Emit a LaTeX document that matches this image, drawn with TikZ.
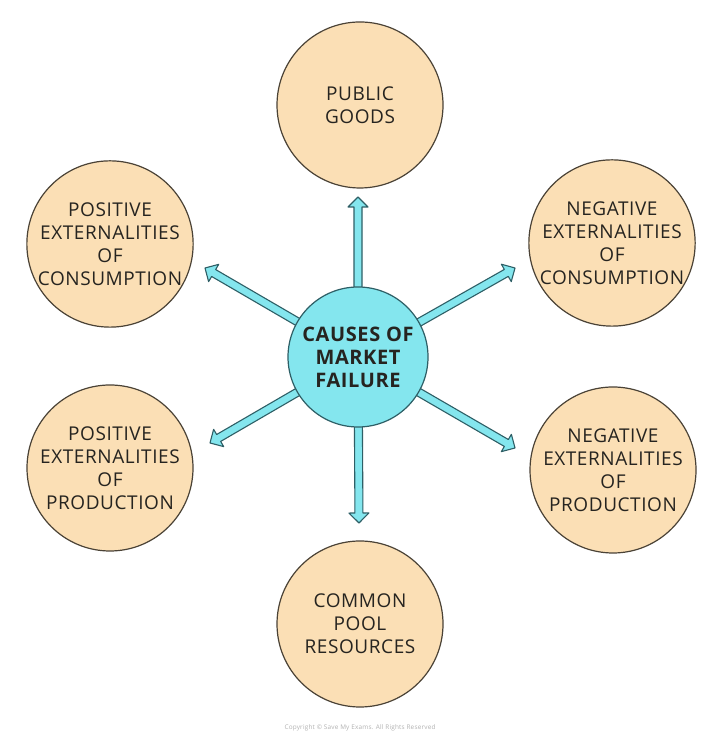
\documentclass[tikz,border=0pt]{standalone}
\usepackage{fontspec}
\setmainfont{Open Sans}[LetterSpace=3]
\usetikzlibrary{calc}
\definecolor{peach}{HTML}{FBDFB5}
\definecolor{peachline}{HTML}{4A4236}
\definecolor{cyanfill}{HTML}{84E6EE}
\definecolor{cyanline}{HTML}{2E5F66}
\definecolor{txt}{HTML}{262420}
\newcommand\hollowarrow[2]{%
  \filldraw[arrowshape]
    ($(#1)!2pt!90:(#2)$) --
    ($($(#2)!5pt!(#1)$)!2pt!-90:(#1)$) --
    ($($(#2)!5pt!(#1)$)!5pt!-90:(#1)$) --
    (#2) --
    ($($(#2)!5pt!(#1)$)!5pt!90:(#1)$) --
    ($($(#2)!5pt!(#1)$)!2pt!90:(#1)$) --
    ($(#1)!2pt!-90:(#2)$) -- cycle;}
\begin{document}
\begin{tikzpicture}[x=0.5pt,y=0.5pt,
  cause/.style={circle,draw=peachline,fill=peach,line width=0.6pt,
    minimum size=83pt,inner sep=0pt,align=center,text=txt,
    font=\fontsize{9.5}{11.5}\selectfont},
  hub/.style={circle,draw=cyanline,fill=cyanfill,line width=0.6pt,
    minimum size=70pt,inner sep=0pt,align=center,text=txt,
    font=\fontsize{10}{11.5}\selectfont\bfseries},
  arrowshape/.style={draw=cyanline,fill=cyanfill,line width=0.55pt,line join=round}]
\useasboundingbox (0,0) rectangle (720,747);
\fill[white] (0,0) rectangle (720,747);
% tips
\coordinate (C) at (358,390);
\coordinate (tU) at (358,550);
\coordinate (tRU) at (515,479);
\coordinate (tLU) at (205,479);
\coordinate (tLD) at (210,304);
\coordinate (tRD) at (515,299);
\coordinate (tD) at (359,224);
\hollowarrow{C}{tU}
\hollowarrow{C}{tRU}
\hollowarrow{C}{tLU}
\hollowarrow{C}{tLD}
\hollowarrow{C}{tRD}
\hollowarrow{C}{tD}
\node[hub] (hub) at (C) {CAUSES OF\\MARKET\\FAILURE};
\node[cause] (pg) at (360,642) {PUBLIC\\GOODS};
\node[cause] (pec) at (110,503) {POSITIVE\\EXTERNALITIES\\OF\\CONSUMPTION};
\node[cause] (nec) at (612,504) {NEGATIVE\\EXTERNALITIES\\OF\\CONSUMPTION};
\node[cause] (pep) at (110,279) {POSITIVE\\EXTERNALITIES\\OF\\PRODUCTION};
\node[cause] (nep) at (613,277) {NEGATIVE\\EXTERNALITIES\\OF\\PRODUCTION};
\node[cause] (cpr) at (360,123) {COMMON\\POOL\\RESOURCES};
\node[text=black!30,font=\fontsize{3.2}{4}\selectfont] (copy) at (360,19) {Copyright © Save My Exams. All Rights Reserved};
\end{tikzpicture}
\end{document}
